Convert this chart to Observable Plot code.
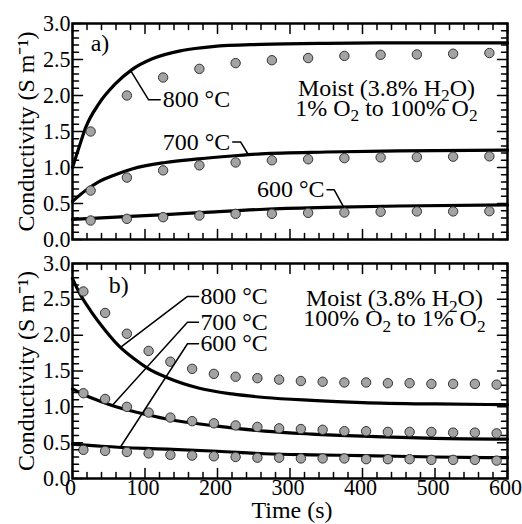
<!DOCTYPE html>
<html><head><meta charset="utf-8">
<script src="https://cdn.jsdelivr.net/npm/d3@7"></script>
<script src="https://cdn.jsdelivr.net/npm/@observablehq/plot@0.6"></script>
<style>
body{margin:0;background:#fff;width:522px;height:524px;overflow:hidden}
#chart svg{display:block;overflow:visible;background:#fff}
</style></head><body><div id="chart"></div>
<script>
// ---- Panel a) : 1% O2 -> 100% O2 ----
const timeA = [25,75,125,175,225,275,325,375,425,475,525,575];
const dotsA800 = [1.50,2.00,2.25,2.37,2.45,2.49,2.52,2.55,2.565,2.57,2.58,2.59];
const dotsA700 = [0.68,0.86,0.96,1.03,1.07,1.10,1.115,1.13,1.14,1.145,1.15,1.155];
const dotsA600 = [0.264,0.287,0.31,0.333,0.356,0.357,0.37,0.375,0.385,0.39,0.39,0.393];
const fitA800T = [0,9,18,36,59,82,110,151,193,260,350,450,600];
const fitA800V = [1.0,1.28,1.55,1.88,2.16,2.36,2.51,2.625,2.68,2.71,2.725,2.73,2.73];
const fitA700T = [0,18,36,59,82,128,174,220,260,350,450,600];
const fitA700V = [0.53,0.68,0.80,0.90,0.98,1.07,1.12,1.16,1.19,1.215,1.23,1.24];
const fitA600T = [0,60,128,197,265,350,450,600];
const fitA600V = [0.28,0.31,0.345,0.385,0.42,0.445,0.465,0.48];

// ---- Panel b) : 100% O2 -> 1% O2 ----
const timeB = [15,45,75,105,135,165,195,225,255,285,315,345,375,405,435,465,495,525,555,585];
const dotsB800 = [2.61,2.31,2.02,1.78,1.63,1.53,1.46,1.42,1.40,1.38,1.36,1.35,1.34,1.34,1.33,1.33,1.32,1.32,1.32,1.31];
const dotsB700 = [1.19,1.11,1.00,0.92,0.85,0.80,0.77,0.74,0.72,0.70,0.69,0.68,0.66,0.66,0.65,0.65,0.65,0.64,0.64,0.63];
const dotsB600 = [0.40,0.385,0.37,0.35,0.33,0.32,0.31,0.30,0.29,0.29,0.28,0.28,0.28,0.27,0.27,0.27,0.26,0.26,0.26,0.25];
const fitB800T = [0,10,25,45,65,85,105,130,175,220,265,330,400,500,600];
const fitB800V = [2.79,2.58,2.34,2.07,1.84,1.67,1.53,1.41,1.26,1.18,1.13,1.09,1.06,1.04,1.03];
const fitB700T = [0,20,40,60,90,130,200,265,330,400,500,600];
const fitB700V = [1.25,1.15,1.07,1.00,0.92,0.83,0.73,0.66,0.62,0.59,0.56,0.55];
const fitB600T = [0,40,100,130,200,265,330,400,500,600];
const fitB600V = [0.48,0.45,0.42,0.41,0.38,0.345,0.33,0.32,0.30,0.29];

// ---- Annotations (data coordinates) ----
const panelLetters = ["a)", "b)"];
const panelLetterT = [25, 50];
const panelLetterV = [2.72, 2.69];
const tempLabels = ["800 °C", "700 °C", "600 °C"];
const leaderA = [
  [[80,2.35],[105,1.94],[121,1.94]],
  [[221,1.354],[232,1.354],[243,1.17]],
  [[351,0.69],[361,0.69],[374,0.45]]
];
const labelA = [[123,1.94,"start"],[219,1.354,"end"],[349,0.69,"end"]];
const leaderB = [
  [[173.8,2.54],[158.6,2.54],[66.2,1.83]],
  [[173.8,2.18],[158.6,2.18],[54.8,1.02]],
  [[173.8,1.88],[158.6,1.88],[66.2,0.44]]
];
const labelB = [[175,2.54,"start"],[175,2.18,"start"],[175,1.88,"start"]];
const noteA = ["Moist (3.8% H_{2}O)", "1% O_{2} to 100% O_{2}"];
const noteB = ["Moist (3.8% H_{2}O)", "100% O_{2} to 1% O_{2}"];
const noteAT = 433, noteAV = [2.10, 1.82];
const noteBT = 444, noteBV = [2.51, 2.23];
const yLabel = "Conductivity (S m\u207B\u00B9)";
const xLabel = "Time (s)";

const xMajor = d3.range(0, 601, 100);
const xMinor = d3.range(0, 601, 20).filter(d => d % 100 !== 0);
const yMajor = d3.range(0, 7).map(i => i * 0.5);
const yMinor = d3.range(0, 31).map(i => i / 10).filter((d, i) => i % 5 !== 0);

// ---- font: pick an installed Times-like serif and size it to the reference ----
function pickFont(cands) {
  const c = document.createElement("canvas").getContext("2d");
  const s = "Conductivity 0123456789 Moist";
  c.font = "40px monospace";
  const w0 = c.measureText(s).width;
  for (const f of cands) {
    c.font = `40px '${f}', monospace`;
    if (Math.abs(c.measureText(s).width - w0) > 0.5) return f;
  }
  return "serif";
}
const fontName = pickFont(["Liberation Serif", "Tinos", "Times New Roman", "Nimbus Roman", "FreeSerif", "DejaVu Serif Condensed", "DejaVu Serif"]);
const FONT = `'${fontName}', serif`;
const TEXT_SIZE = (() => {
  const c = document.createElement("canvas").getContext("2d");
  c.font = `100px ${FONT}`;
  const w = c.measureText("Time (s)").width;
  return Math.max(14, Math.min(24, 81 * 100 / w));
})();
const TICK_SIZE = TEXT_SIZE * 0.92;

const tickShape = {draw(c, l) { c.moveTo(0, 0); c.lineTo(0, -l); }};

function tickMarks() {
  const m = [];
  const mk = (data, opts, len) => Plot.vector(data, {...opts, length: len, anchor: "start", shape: tickShape, strokeWidth: 1.5, stroke: "black"});
  for (const [data, len] of [[yMajor, 10], [yMinor, 6]]) {
    m.push(mk(data, {x: 0, y: d => d, rotate: 90}, len));
    m.push(mk(data, {x: 600, y: d => d, rotate: -90}, len));
  }
  for (const [data, len] of [[xMajor, 10], [xMinor, 6]]) {
    m.push(mk(data, {x: d => d, y: 0, rotate: 0}, len));
    m.push(mk(data, {x: d => d, y: 3, rotate: 180}, len));
  }
  return m;
}

function seriesMarks(dT, d8, d7, d6, f8T, f8V, f7T, f7V, f6T, f6V) {
  const marks = [];
  for (const [T, V] of [[f8T, f8V], [f7T, f7V], [f6T, f6V]]) {
    const data = T.map((t, i) => ({t, v: V[i]}));
    marks.push(Plot.line(data, {x: "t", y: "v", curve: "monotone-x", strokeWidth: 3.2, stroke: "black"}));
  }
  for (const V of [d8, d7, d6]) {
    const data = dT.map((t, i) => ({t, v: V[i]}));
    marks.push(Plot.dot(data, {x: "t", y: "v", r: 4.7, fill: "#a3a3a3", stroke: "#333", strokeWidth: 1}));
  }
  return marks;
}

function leaderMarks(leaders, labels) {
  const marks = [];
  leaders.forEach((pts, i) => {
    marks.push(Plot.line(pts, {x: d => d[0], y: d => d[1], stroke: "black", strokeWidth: 1.5}));
    const [t, v, anchor] = labels[i];
    marks.push(Plot.text([tempLabels[i]], {x: t, y: v, text: d => d, textAnchor: anchor, dx: anchor === "start" ? 1 : -1, fontSize: TEXT_SIZE, fill: "black"}));
  });
  return marks;
}

// subscripts written as _{..} become lowered, smaller tspans
function richify(svg) {
  const ns = "http://www.w3.org/2000/svg";
  d3.select(svg).selectAll("text").each(function() {
    const t = this.textContent;
    if (!/_\{/.test(t)) return;
    const fs = parseFloat(getComputedStyle(this).fontSize) || TEXT_SIZE;
    while (this.firstChild) this.removeChild(this.firstChild);
    let shift = 0;
    for (const p of t.split(/(_\{[^}]*\})/)) {
      if (!p) continue;
      const m = p.match(/^_\{(.*)\}$/);
      const ts = document.createElementNS(ns, "tspan");
      if (m) {
        const d = fs * 0.22;
        ts.setAttribute("dy", (d - shift).toFixed(2));
        ts.setAttribute("font-size", (fs * 0.72).toFixed(1));
        shift = d;
        ts.textContent = m[1];
      } else {
        ts.setAttribute("dy", (-shift).toFixed(2));
        shift = 0;
        ts.textContent = p;
      }
      this.appendChild(ts);
    }
  });
}

function panel({height, marginTop, marginBottom, bottomAxis, letterIdx, dots, leaders, labels, note, noteT, noteV}) {
  const marks = [
    ...seriesMarks(...dots),
    ...leaderMarks(leaders, labels),
    Plot.text(note, {x: noteT, y: (d, i) => noteV[i], text: d => d, fontSize: TEXT_SIZE, fill: "black"}),
    Plot.text([panelLetters[letterIdx]], {x: panelLetterT[letterIdx], y: panelLetterV[letterIdx], text: d => d, textAnchor: "start", fontSize: TEXT_SIZE, fill: "black"}),
    ...tickMarks(),
    Plot.frame({stroke: "black", strokeWidth: 2.5}),
    Plot.axisY({ticks: yMajor, tickSize: 0, tickPadding: 2, tickFormat: d3.format(".1f"), fontSize: TICK_SIZE, label: null, fill: "black"}),
    Plot.text([yLabel], {frameAnchor: "left", textAnchor: "middle", lineAnchor: "middle", rotate: -90, dx: -46, text: d => d, fontSize: TEXT_SIZE, fill: "black"})
  ];
  if (bottomAxis) {
    marks.push(Plot.axisX({ticks: xMajor, tickSize: 0, tickPadding: 1, dx: -2, tickFormat: d => String(d), fontSize: TICK_SIZE, label: null, fill: "black"}));
    marks.push(Plot.text([xLabel], {frameAnchor: "bottom", textAnchor: "middle", lineAnchor: "middle", dy: 32, dx: 2, text: d => d, fontSize: TEXT_SIZE, fill: "black"}));
  }
  const svg = Plot.plot({
    width: 522, height, marginLeft: 72, marginRight: 15, marginTop, marginBottom,
    style: {fontFamily: FONT, fontSize: TEXT_SIZE + "px", color: "black", background: "white"},
    x: {domain: [0, 600], ...(bottomAxis ? {} : {axis: null})},
    y: {domain: [0, 3]},
    marks
  });
  richify(svg);
  return svg;
}

const chart = document.getElementById("chart");
chart.appendChild(panel({
  height: 250, marginTop: 23, marginBottom: 11, bottomAxis: false, letterIdx: 0,
  dots: [timeA, dotsA800, dotsA700, dotsA600, fitA800T, fitA800V, fitA700T, fitA700V, fitA600T, fitA600V],
  leaders: leaderA, labels: labelA, note: noteA, noteT: noteAT, noteV: noteAV
}));
chart.appendChild(panel({
  height: 274, marginTop: 13, marginBottom: 46, bottomAxis: true, letterIdx: 1,
  dots: [timeB, dotsB800, dotsB700, dotsB600, fitB800T, fitB800V, fitB700T, fitB700V, fitB600T, fitB600V],
  leaders: leaderB, labels: labelB, note: noteB, noteT: noteBT, noteV: noteBV
}));
</script></body></html>
